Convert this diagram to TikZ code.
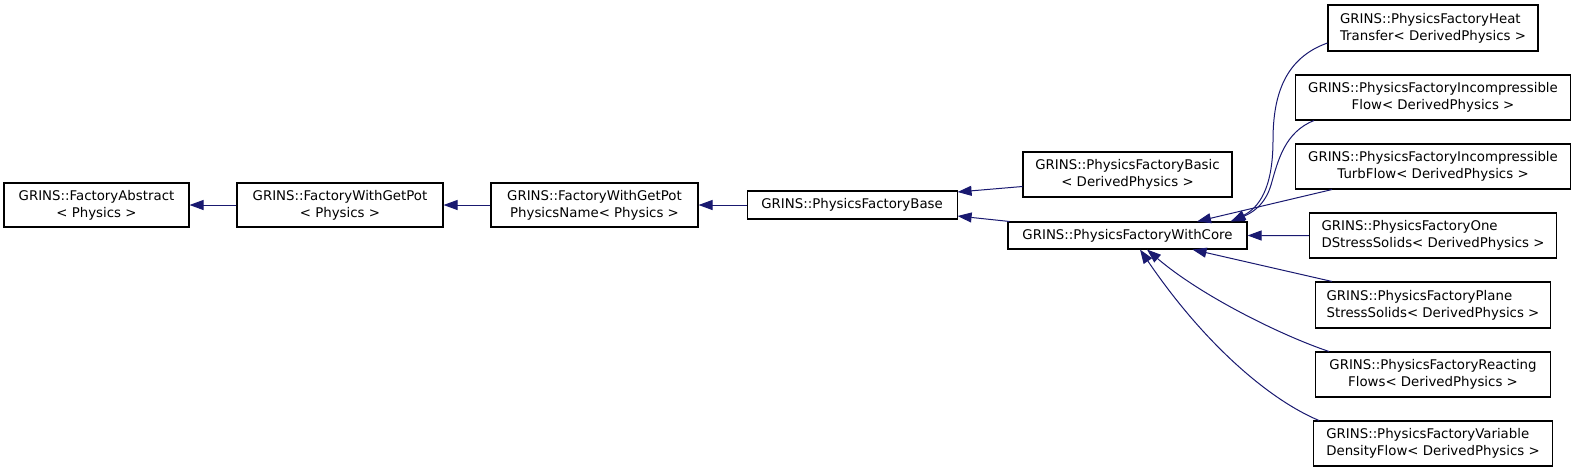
\documentclass[tikz,border=0pt]{standalone}
\usepackage{fontspec}
\setmainfont{DejaVu Sans}
\usepackage{tikz}
\usetikzlibrary{positioning, arrows.meta, calc}
\definecolor{edgeblue}{HTML}{191970}

\begin{document}
\begin{tikzpicture}[
  x=0.75pt, y=-0.75pt,
  font=\fontsize{10}{12.5}\selectfont,
  cls/.style={draw, line width=0.8pt, fill=white, inner sep=0pt,
    align=center, minimum height=33.75pt},
  clsl/.style={cls, align=left},
  inh/.style={-{Triangle[length=10.5pt, width=7.5pt]}, edgeblue,
    line width=0.75pt},
]
  \useasboundingbox (0,0) rectangle (1576,472);

  % Base chain, left to right
  \node[cls, minimum width=138.75pt, minimum height=33pt] (fabs) at (96.5,205)
    {GRINS::FactoryAbstract\\< Physics >};
  \node[cls, minimum width=154.5pt, minimum height=33pt, right=35.2pt of fabs] (fwgp)
    {GRINS::FactoryWithGetPot\\< Physics >};
  \node[cls, minimum width=155.25pt, minimum height=33pt, right=35.2pt of fwgp] (fwgppn)
    {GRINS::FactoryWithGetPot\\PhysicsName< Physics >};
  \node[cls, minimum width=157.5pt, minimum height=21pt, right=36pt of fwgppn] (pfbase)
    {GRINS::PhysicsFactoryBase};

  \node[cls, minimum width=156.75pt] (pfbasic) at (1127.5,174.5)
    {GRINS::PhysicsFactoryBasic\\< DerivedPhysics >};
  \node[cls, minimum width=179.25pt, minimum height=20.25pt] (pfcore) at (1127.5,235.5)
    {GRINS::PhysicsFactoryWithCore};

  % Derived factories (right column)
  \node[clsl, minimum width=157.5pt, minimum height=34.5pt] (pfheat) at (1433,28)
    {GRINS::PhysicsFactoryHeat\\Transfer< DerivedPhysics >};
  \node[cls, minimum width=206.25pt, below=17.2pt of pfheat] (pfincflow)
    {GRINS::PhysicsFactoryIncompressible\\Flow< DerivedPhysics >};
  \node[cls, minimum width=206.25pt, below=17.2pt of pfincflow] (pfturb)
    {GRINS::PhysicsFactoryIncompressible\\TurbFlow< DerivedPhysics >};
  \node[clsl, minimum width=185.25pt, below=17.2pt of pfturb] (pfoned)
    {GRINS::PhysicsFactoryOne\\DStressSolids< DerivedPhysics >};
  \node[clsl, minimum width=176.25pt, minimum height=34.5pt, below=17.2pt of pfoned] (pfplane)
    {GRINS::PhysicsFactoryPlane\\StressSolids< DerivedPhysics >};
  \node[cls, minimum width=176.25pt, below=17.2pt of pfplane] (pfreact)
    {GRINS::PhysicsFactoryReacting\\Flows< DerivedPhysics >};
  \node[clsl, minimum width=179.25pt, below=17.2pt of pfreact] (pfvardens)
    {GRINS::PhysicsFactoryVariable\\DensityFlow< DerivedPhysics >};

  % Inheritance edges, tip at the base class
  \draw[inh] (fwgp) -- (fabs);
  \draw[inh] (fwgppn) -- (fwgp);
  \draw[inh] (pfbase) -- (fwgppn);
  \draw[inh] ($(pfbasic.west)+(0,12)$) -- ($(pfbase.east)+(0,-13)$);
  \draw[inh] ($(pfcore.north west)+(2,0)$) -- ($(pfbase.east)+(0,11)$);

  \draw[inh] ($(pfheat.west)+(0,15)$) .. controls (1285,58) and (1273,95) .. (1273,140)
    .. controls (1273,190) and (1258,208) .. ($(pfcore.north)+(104,0)$);
  \draw[inh] ($(pfincflow.south west)+(19,0)$) .. controls (1285,132) and (1278,160) .. (1271,185)
    .. controls (1265,205) and (1252,213) .. ($(pfcore.north)+(103,0)$);
  \draw[inh] ($(pfturb.south west)+(37,0)$) -- ($(pfcore.north)+(69.5,0)$);
  \draw[inh] (pfoned) -- (pfcore);
  \draw[inh] ($(pfplane.north west)+(17,0)$) -- ($(pfcore.south)+(65,0)$);
  \draw[inh] ($(pfreact.north west)+(14,0)$) .. controls (1280,335) and (1200,295)
    .. ($(pfcore.south)+(19.5,0)$);
  \draw[inh] ($(pfvardens.north west)+(6,0)$) .. controls (1270,400) and (1205,345)
    .. ($(pfcore.south)+(12.5,0)$);
\end{tikzpicture}
\end{document}
